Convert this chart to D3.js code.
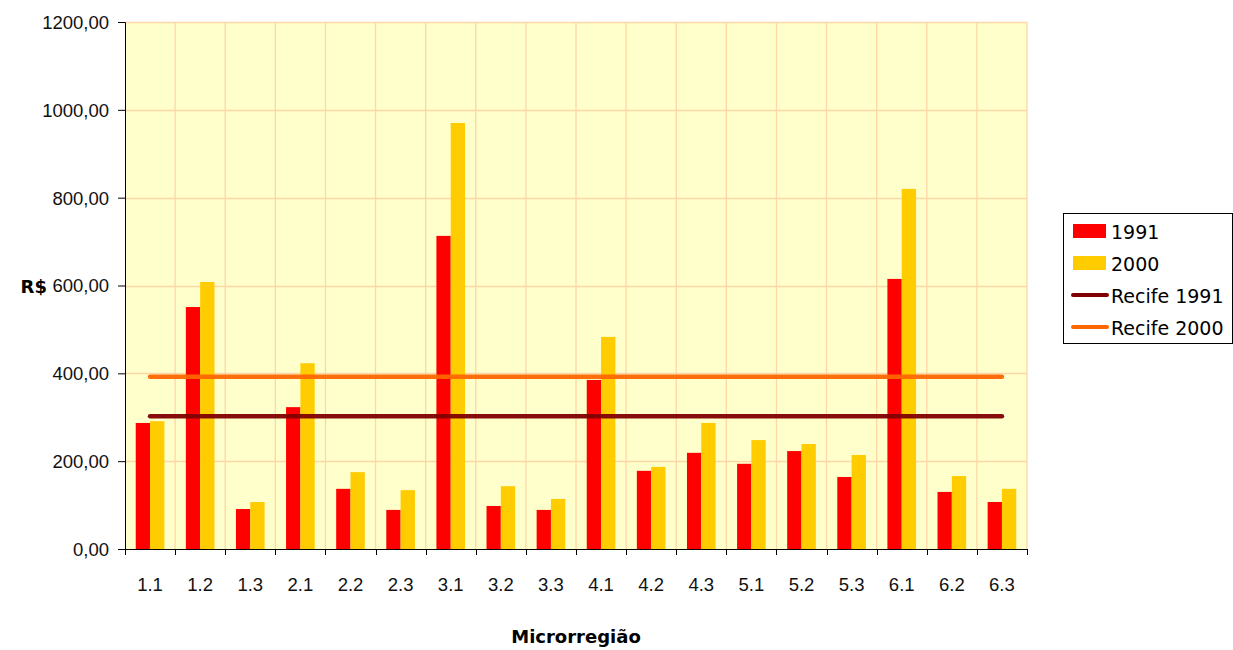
<!DOCTYPE html>
<html>
<head>
<meta charset="utf-8">
<script src="https://cdn.jsdelivr.net/npm/d3@7"></script>
<style>
  html, body { margin: 0; padding: 0; background: #ffffff; }
  svg { display: block; }
</style>
</head>
<body>
<svg id="chart" width="1233" height="650"></svg>
<script>
// Microregions on the x axis
const categories = ["1.1","1.2","1.3","2.1","2.2","2.3","3.1","3.2","3.3",
                    "4.1","4.2","4.3","5.1","5.2","5.3","6.1","6.2","6.3"];
// Values in R$ per microregion
const values1991 = [287, 551, 91, 323, 137, 89, 713, 98, 89,
                    385, 178, 219, 194, 223, 164, 615, 130, 107];
const values2000 = [291, 608, 107, 423, 175, 134, 970, 143, 114,
                    483, 187, 287, 248, 239, 214, 820, 166, 137];
// Reference levels for Recife
const recife1991 = 302;
const recife2000 = 392;
const yTicks = [0, 200, 400, 600, 800, 1000, 1200];
const seriesNames = ["1991", "2000", "Recife 1991", "Recife 2000"];

const colors = { s1991: "#FF0000", s2000: "#FFCC00", r1991: "#800000", r2000: "#FF6600" };
const labelFont = "'Liberation Sans', Arial, sans-serif";
const titleFont = "'DejaVu Sans', Tahoma, sans-serif";

const svg = d3.select("#chart");
const plot = { left: 125, top: 22, right: 1027, bottom: 549 };

const x = d3.scaleBand().domain(categories).range([plot.left, plot.right]).paddingInner(0).paddingOuter(0);
const y = d3.scaleLinear().domain([0, 1200]).range([plot.bottom, plot.top]);

// plot background
svg.append("rect")
  .attr("x", plot.left).attr("y", plot.top)
  .attr("width", plot.right - plot.left).attr("height", plot.bottom - plot.top)
  .attr("fill", "#FFFFCC");

const grid = svg.append("g").attr("stroke", "#FFD6A6").attr("stroke-width", 1.3);
// horizontal gridlines
grid.selectAll("line.h").data(yTicks.slice(1)).join("line")
  .attr("x1", plot.left).attr("x2", plot.right)
  .attr("y1", d => Math.round(y(d)) + 0.5).attr("y2", d => Math.round(y(d)) + 0.5);
// vertical gridlines at category boundaries
grid.selectAll("line.v").data(d3.range(1, categories.length + 1)).join("line")
  .attr("x1", i => plot.left + i * x.bandwidth())
  .attr("x2", i => plot.left + i * x.bandwidth())
  .attr("y1", plot.top).attr("y2", plot.bottom);

// bars: gap width 150% of a bar
const bw = x.bandwidth() / 3.5;
const gap = bw * 0.75;
const bars = svg.append("g");
bars.selectAll("rect.b1").data(values1991).join("rect")
  .attr("x", (d, i) => x(categories[i]) + gap)
  .attr("y", d => y(d))
  .attr("width", bw)
  .attr("height", d => y(0) - y(d))
  .attr("fill", colors.s1991);
bars.selectAll("rect.b2").data(values2000).join("rect")
  .attr("x", (d, i) => x(categories[i]) + gap + bw)
  .attr("y", d => y(d))
  .attr("width", bw)
  .attr("height", d => y(0) - y(d))
  .attr("fill", colors.s2000);

// Recife reference lines, spanning first to last category centre
const line = d3.line().x(d => x(d.c) + x.bandwidth() / 2).y(d => y(d.v));
[[recife1991, colors.r1991], [recife2000, colors.r2000]].forEach(([v, c]) => {
  svg.append("path")
    .datum(categories.map(cat => ({ c: cat, v: v })))
    .attr("d", line)
    .attr("fill", "none")
    .attr("stroke", c)
    .attr("stroke-width", 4.5)
    .attr("stroke-linecap", "round")
    .attr("opacity", 0.95);
});

// y axis
const yAxis = d3.axisLeft(y).tickValues(yTicks).tickSize(7).tickPadding(9)
  .tickFormat(d => d3.format(".2f")(d).replace(".", ","));
const gy = svg.append("g").attr("transform", `translate(${plot.left},0)`).call(yAxis);
gy.select(".domain").attr("stroke", "#000");
gy.selectAll(".tick line").attr("stroke", "#000");
gy.selectAll(".tick text").attr("font-family", labelFont).attr("font-size", 18.5).attr("fill", "#111")
  .attr("dy", "0.35em");

// x axis with ticks at category boundaries
const gx = svg.append("g").attr("transform", `translate(0,${plot.bottom})`);
gx.append("line").attr("x1", plot.left).attr("x2", plot.right).attr("y1", 0.5).attr("y2", 0.5)
  .attr("stroke", "#000");
const bounds = d3.range(categories.length + 1).map(i => plot.left + i * x.bandwidth());
gx.selectAll("line.t").data(bounds).join("line")
  .attr("x1", d => Math.round(d) + 0.5).attr("x2", d => Math.round(d) + 0.5)
  .attr("y1", 0).attr("y2", 6).attr("stroke", "#000");
gx.selectAll("text").data(categories).join("text")
  .attr("x", d => x(d) + x.bandwidth() / 2)
  .attr("y", 42)
  .attr("text-anchor", "middle")
  .attr("font-family", labelFont).attr("font-size", 18.5).attr("fill", "#111")
  .text(d => d);

// axis titles
svg.append("text").attr("x", 47).attr("y", 293).attr("text-anchor", "end")
  .attr("font-family", titleFont).attr("font-weight", "bold").attr("font-size", 18)
  .text("R$");
svg.append("text").attr("x", 576).attr("y", 643).attr("text-anchor", "middle")
  .attr("font-family", titleFont).attr("font-weight", "bold").attr("font-size", 18)
  .text("Microrregião");

// legend
const lg = svg.append("g");
lg.append("rect").attr("x", 1063.5).attr("y", 213.5).attr("width", 169).attr("height", 130)
  .attr("fill", "#fff").attr("stroke", "#000");
const rowY = [231, 263, 295, 327];
const entries = [
  { name: seriesNames[0], type: "box", color: colors.s1991 },
  { name: seriesNames[1], type: "box", color: colors.s2000 },
  { name: seriesNames[2], type: "line", color: colors.r1991 },
  { name: seriesNames[3], type: "line", color: colors.r2000 }
];
entries.forEach((e, i) => {
  const cy = rowY[i];
  if (e.type === "box") {
    lg.append("rect").attr("x", 1073).attr("y", cy - 7).attr("width", 33).attr("height", 14).attr("fill", e.color);
  } else {
    lg.append("line").attr("x1", 1073).attr("x2", 1107).attr("y1", cy).attr("y2", cy)
      .attr("stroke", e.color).attr("stroke-width", 4).attr("stroke-linecap", "round");
  }
  lg.append("text").attr("x", 1111).attr("y", cy + 7.5)
    .attr("font-family", titleFont).attr("font-size", 19).attr("fill", "#000")
    .text(e.name);
});
</script>
</body>
</html>
